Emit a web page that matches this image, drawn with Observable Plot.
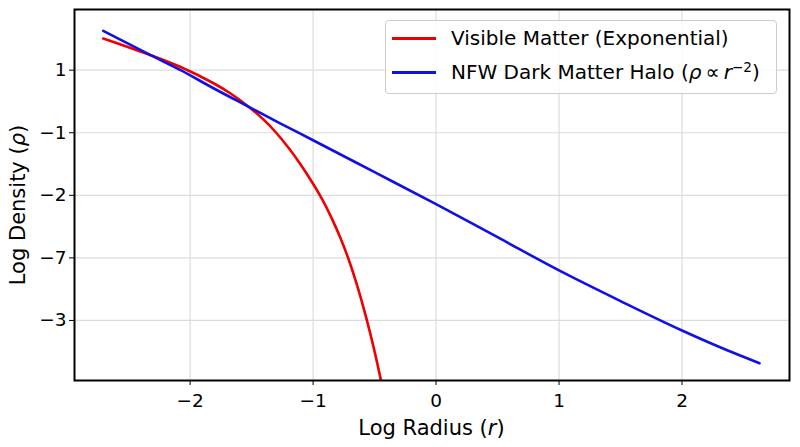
<!DOCTYPE html>
<html><head><meta charset="utf-8">
<script src="https://cdn.jsdelivr.net/npm/d3@7"></script>
<script src="https://cdn.jsdelivr.net/npm/@observablehq/plot@0.6"></script>
<style>
body{margin:0;background:#fff;}
#wrap{position:relative;width:800px;height:447px;font-family:"DejaVu Sans",sans-serif;color:#000;}
#wrap svg{position:absolute;left:0;top:0;}
#legend{position:absolute;left:385px;top:20px;width:392px;height:74px;border:1px solid #cccccc;border-radius:4px;background:rgba(255,255,255,0.85);box-sizing:border-box;}
.row{position:absolute;left:0;height:22px;display:flex;align-items:center;font-size:20px;white-space:nowrap;}
.sw{display:inline-block;width:44px;height:3px;margin-left:6px;margin-right:15px;flex:none;}
.lab{display:inline-block;line-height:22px;}
sup{font-size:68%;line-height:0;vertical-align:0.55em;}
</style></head>
<body><div id="wrap"></div>
<script>
// Tick positions and labels (as printed on the reference)
const xTicks = [-2, -1, 0, 1, 2];
const xTickLabels = ["−2", "−1", "0", "1", "2"];
const yTicks = [1, 0, -1, -2, -3];
const yTickLabels = ["1", "−1", "−2", "−7", "−3"];

// Visible matter (exponential)
const redX = [-2.706, -2.321, -2.077, -1.806, -1.671, -1.522, -1.40, -1.30, -1.20, -1.10, -1.00, -0.93, -0.85, -0.78, -0.717, -0.64, -0.566, -0.51, -0.451, -0.40];
const redY = [1.507, 1.24, 1.05, 0.787, 0.627, 0.413, 0.205, 0.0, -0.24, -0.51, -0.815, -1.05, -1.36, -1.67, -1.99, -2.45, -2.97, -3.41, -3.93, -4.43];

// NFW dark matter halo
const blueX = [-2.706, -2.321, -2.077, -1.806, -1.522, -1.264, -1.0, -0.5, 0, 0.5, 1.0, 1.5, 2.0, 2.3, 2.63];
const blueY = [1.629, 1.24, 1.0, 0.707, 0.413, 0.147, -0.12, -0.63, -1.14, -1.67, -2.2, -2.69, -3.16, -3.42, -3.683];

const seriesNames = ["Visible Matter (Exponential)", "NFW Dark Matter Halo"];
const seriesColors = ["#ee0000", "#1010e6"];

const red = redX.map((x, i) => ({x, y: redY[i]}));
const blue = blueX.map((x, i) => ({x, y: blueY[i]}));

const chart = Plot.plot({
  width: 800, height: 447,
  marginLeft: 74, marginRight: 11, marginTop: 9, marginBottom: 67,
  x: {domain: [-2.94, 2.874]},
  y: {domain: [-3.96, 1.97]},
  style: {fontFamily: "DejaVu Sans, sans-serif", fontSize: "18.5px", background: "white", color: "black"},
  marks: [
    Plot.gridX(xTicks, {stroke: "#dcdcdc", strokeOpacity: 1, strokeWidth: 1.2}),
    Plot.gridY(yTicks, {stroke: "#dcdcdc", strokeOpacity: 1, strokeWidth: 1.2}),
    Plot.line(red, {x: "x", y: "y", stroke: seriesColors[0], strokeWidth: 2.6, curve: "catmull-rom", clip: true}),
    Plot.line(blue, {x: "x", y: "y", stroke: seriesColors[1], strokeWidth: 2.6, curve: "monotone-x", clip: true}),
    Plot.axisX(xTicks, {tickFormat: d => xTickLabels[xTicks.indexOf(d)], tickSize: 5, tickPadding: 8, label: null, fontSize: 18.5}),
    Plot.axisY(yTicks, {tickFormat: d => yTickLabels[yTicks.indexOf(d)], tickSize: 5, tickPadding: 3, label: null, fontSize: 18.5}),
    Plot.frame({stroke: "black", strokeWidth: 2})
  ]
});

const svg = d3.select(chart);
const xl = svg.append("text")
  .attr("x", 431.5).attr("y", 435)
  .attr("text-anchor", "middle")
  .attr("font-size", 21).attr("fill", "black")
  .attr("font-family", "DejaVu Sans, sans-serif");
xl.append("tspan").text("Log Radius (");
xl.append("tspan").attr("font-style", "italic").text("r");
xl.append("tspan").text(")");

const yl = svg.append("text")
  .attr("transform", "translate(25,205) rotate(-90)")
  .attr("text-anchor", "middle")
  .attr("font-size", 21).attr("fill", "black")
  .attr("font-family", "DejaVu Sans, sans-serif");
yl.append("tspan").text("Log Density (");
yl.append("tspan").attr("font-style", "italic").text("ρ");
yl.append("tspan").text(")");

const wrap = document.getElementById("wrap");
wrap.appendChild(chart);

const legend = document.createElement("div");
legend.id = "legend";
legend.innerHTML =
  `<div class="row" style="top:6px"><span class="sw" style="background:${seriesColors[0]}"></span><span class="lab">${seriesNames[0]}</span></div>` +
  `<div class="row" style="top:40px"><span class="sw" style="background:${seriesColors[1]}"></span><span class="lab">${seriesNames[1]} (<i>ρ</i>&thinsp;∝&thinsp;<i>r</i><sup>−2</sup>)</span></div>`;
wrap.appendChild(legend);
</script></body></html>
